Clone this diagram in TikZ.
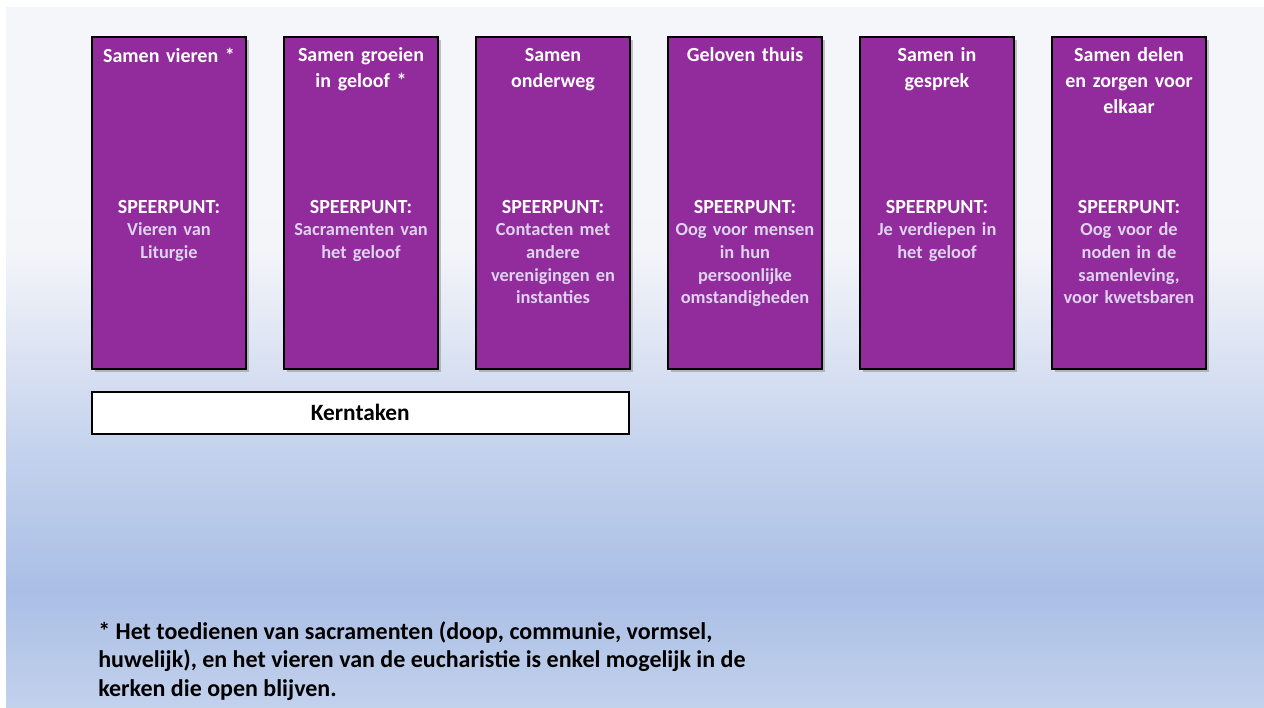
\documentclass[tikz,border=0pt]{standalone}
\usepackage{fontspec}
\setmainfont{Carlito}
\usetikzlibrary{calc,positioning,shadows}
\definecolor{paars}{RGB}{146,43,156}
\definecolor{lila}{RGB}{221,211,238}
\definecolor{bgtop}{RGB}{245,246,250}
\definecolor{bgfade}{RGB}{243,245,249}
\definecolor{bglight}{RGB}{232,236,246}
\definecolor{bghalf}{RGB}{213,222,241}
\definecolor{bgdeep}{RGB}{196,210,237}
\definecolor{bgmid}{RGB}{170,191,230}
\definecolor{bgbot}{RGB}{194,209,236}
\pgfdeclareverticalshading{achtergrond}{100bp}{
  color(0bp)=(bgbot); color(25bp)=(bgbot); color(33.36bp)=(bgmid);
  color(43.36bp)=(bgdeep); color(48.36bp)=(bghalf); color(54.07bp)=(bglight);
  color(57.64bp)=(bgfade); color(61.93bp)=(bgtop); color(100bp)=(bgtop)}
\newdimen\hdim
\newdimen\wdim
\newdimen\odim
\hdim=249pt
\wdim=115.5pt
\odim=28.5pt
\tikzstyle{taak}=[
  draw=black,
  fill=paars,
  line width=1.2pt,
  minimum height=\hdim,
  minimum width=\wdim,
  inner sep=0pt,
  outer sep=0pt,
  rectangle,
  drop shadow={shadow xshift=2pt, shadow yshift=-2pt, opacity=0.45},
]
\tikzstyle{kop}=[
  text=white,
  font={\fontsize{15}{19.5}\selectfont\bfseries},
  align=center,
  inner sep=0pt,
  text width=\wdim,
]
\tikzstyle{speer}=[
  text=lila,
  font={\fontsize{13.8}{17}\selectfont\bfseries},
  align=center,
  inner sep=0pt,
  text width=\wdim,
]
\tikzstyle{kern}=[
  draw=black,
  fill=white,
  line width=1.2pt,
  minimum height=31.5pt,
  minimum width=402.75pt,
  inner sep=0pt,
  font={\fontsize{17.5}{20}\selectfont\bfseries},
]
\tikzstyle{voetnoot}=[
  anchor=north west,
  align=left,
  inner sep=0pt,
  font={\fontsize{18}{21.5}\selectfont\bfseries},
]
\tikzset{
  x=0.75pt,
  y=-0.75pt,
  node distance=\odim,
}
\newcommand{\speerpunt}{{\fontsize{15}{17}\selectfont\textcolor{white}{SPEERPUNT:}}}

\begin{document}
\begin{tikzpicture}
    \useasboundingbox (0,0) rectangle (1264,707);
    % achtergrond
    \fill [shading=achtergrond] (6,7) rectangle (1264,707);
    % kolommen
    \node (vieren) [taak] at (169,203) {};
    \node (groeien) [taak, right=of vieren] {};
    \node (onderweg) [taak, right=of groeien] {};
    \node (thuis) [taak, right=of onderweg] {};
    \node (gesprek) [taak, right=of thuis] {};
    \node (delen) [taak, right=of gesprek] {};
    \node (vieren-kop) [kop, below=8pt of vieren.north] {Samen vieren *};
    \node (groeien-kop) [kop, below=8pt of groeien.north] {Samen groeien\\in geloof *};
    \node (onderweg-kop) [kop, below=8pt of onderweg.north] {Samen\\onderweg};
    \node (thuis-kop) [kop, below=8pt of thuis.north] {Geloven thuis};
    \node (gesprek-kop) [kop, below=8pt of gesprek.north] {Samen in\\gesprek};
    \node (delen-kop) [kop, below=8pt of delen.north] {Samen delen\\en zorgen voor\\elkaar};
    \node (vieren-speer) [speer, below=122pt of vieren.north] {\speerpunt\\Vieren van\\Liturgie};
    \node (groeien-speer) [speer, below=122pt of groeien.north] {\speerpunt\\Sacramenten van\\het geloof};
    \node (onderweg-speer) [speer, below=122pt of onderweg.north] {\speerpunt\\Contacten met\\andere\\verenigingen en\\instanties};
    \node (thuis-speer) [speer, below=122pt of thuis.north] {\speerpunt\\Oog voor mensen\\in hun\\persoonlijke\\omstandigheden};
    \node (gesprek-speer) [speer, below=122pt of gesprek.north] {\speerpunt\\Je verdiepen in\\het geloof};
    \node (delen-speer) [speer, below=122pt of delen.north] {\speerpunt\\Oog voor de\\noden in de\\samenleving,\\voor kwetsbaren};
    % kerntaken
    \node (kerntaken) [kern, anchor=north west] at (91,391) {Kerntaken};
    \node (noot) [voetnoot] at (98,621) {* Het toedienen van sacramenten (doop, communie, vormsel,\\huwelijk), en het vieren van de eucharistie is enkel mogelijk in de\\kerken die open blijven.};
\end{tikzpicture}
\end{document}
